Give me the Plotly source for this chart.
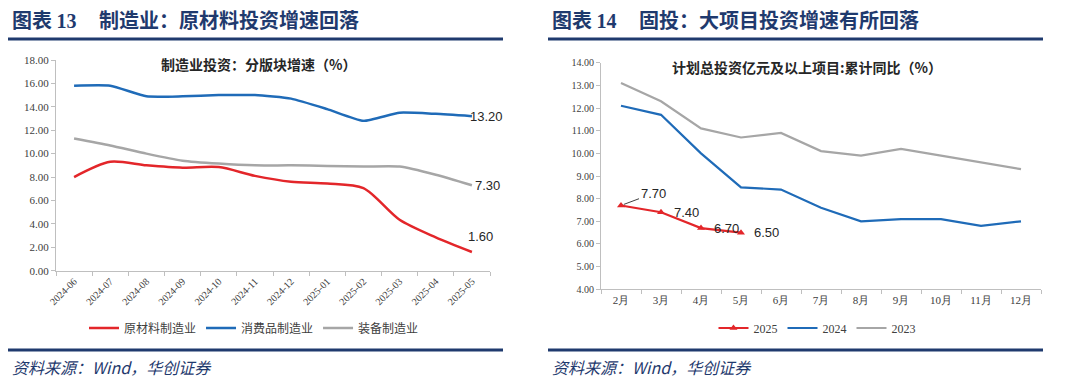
import plotly.graph_objects as go

# ---------------- data ----------------
months_left = ["2024-06", "2024-07", "2024-08", "2024-09", "2024-10", "2024-11",
               "2024-12", "2025-01", "2025-02", "2025-03", "2025-04", "2025-05"]
raw_material = [8.0, 9.3, 9.0, 8.8, 8.85, 8.1, 7.6, 7.45, 7.05, 4.35, 2.85, 1.6]
consumer_goods = [15.8, 15.8, 14.9, 14.9, 15.0, 15.0, 14.7, 13.8, 12.8, 13.5, 13.4, 13.2]
equipment = [11.3, 10.7, 10.0, 9.4, 9.15, 9.0, 9.0, 8.95, 8.9, 8.9, 8.2, 7.3]

months_right = ["2月", "3月", "4月", "5月", "6月", "7月", "8月", "9月", "10月", "11月", "12月"]
y2025 = [7.7, 7.4, 6.7, 6.5]
y2024 = [12.1, 11.7, 10.0, 8.5, 8.4, 7.6, 7.0, 7.1, 7.1, 6.8, 7.0]
y2023 = [13.1, 12.3, 11.1, 10.7, 10.9, 10.1, 9.9, 10.2, 9.9, 9.6, 9.3]

left_ticks = [0, 2, 4, 6, 8, 10, 12, 14, 16, 18]
right_ticks = [4, 5, 6, 7, 8, 9, 10, 11, 12, 13, 14]

# ---------------- style ----------------
W, H = 1080, 382
RED = "#e3262a"
BLUE = "#1f6bb8"
GRAY = "#a6a6a6"
NAVY = "#1f3a6e"
AXC = "#bfbfbf"
CJK = "Noto Sans CJK SC"
SERIF = "Liberation Serif"
SANS = "Liberation Sans"


def px_x(p):
    return p / W


def px_y(p):
    return 1 - p / H


fig = go.Figure()

# left chart
fig.add_trace(go.Scatter(x=months_left, y=raw_material, name="原材料制造业", mode="lines",
                         line=dict(color=RED, width=2.5, shape="spline", smoothing=0.8),
                         xaxis="x", yaxis="y", legend="legend"))
fig.add_trace(go.Scatter(x=months_left, y=consumer_goods, name="消费品制造业", mode="lines",
                         line=dict(color=BLUE, width=2.5, shape="spline", smoothing=0.5),
                         xaxis="x", yaxis="y", legend="legend"))
fig.add_trace(go.Scatter(x=months_left, y=equipment, name="装备制造业", mode="lines",
                         line=dict(color=GRAY, width=2.5, shape="spline", smoothing=0.6),
                         xaxis="x", yaxis="y", legend="legend"))

# right chart
fig.add_trace(go.Scatter(x=months_right[:len(y2025)], y=y2025, name="2025", mode="lines+markers",
                         line=dict(color=RED, width=2.2),
                         marker=dict(symbol="triangle-up", size=7, color=RED),
                         xaxis="x2", yaxis="y2", legend="legend2"))
fig.add_trace(go.Scatter(x=months_right, y=y2024, name="2024", mode="lines",
                         line=dict(color=BLUE, width=2.2),
                         xaxis="x2", yaxis="y2", legend="legend2"))
fig.add_trace(go.Scatter(x=months_right, y=y2023, name="2023", mode="lines",
                         line=dict(color=GRAY, width=2.2),
                         xaxis="x2", yaxis="y2", legend="legend2"))

axis_common = dict(showline=True, linecolor=AXC, linewidth=1, ticks="outside",
                   tickcolor=AXC, ticklen=4, showgrid=False, zeroline=False,
                   automargin=False)

annotations = []
# data labels left
lab_font = dict(family=SANS, size=13, color="#262626")
annotations.append(dict(x=months_left[-1], y=consumer_goods[-1], xref="x", yref="y",
                        text=f"{consumer_goods[-1]:.2f}", showarrow=False,
                        xanchor="left", yanchor="middle", xshift=-4, font=lab_font))
annotations.append(dict(x=months_left[-1], y=equipment[-1], xref="x", yref="y",
                        text=f"{equipment[-1]:.2f}", showarrow=False,
                        xanchor="left", yanchor="middle", xshift=1, font=lab_font))
annotations.append(dict(x=months_left[-1], y=raw_material[-1], xref="x", yref="y",
                        text=f"{raw_material[-1]:.2f}", showarrow=False,
                        xanchor="left", yanchor="middle", xshift=-6, yshift=15,
                        font=lab_font))
# data labels right
annotations.append(dict(x=months_right[0], y=y2025[0], xref="x2", yref="y2",
                        text=f"{y2025[0]:.2f}", showarrow=True, arrowhead=0,
                        arrowwidth=1, arrowcolor="#404040", ax=32, ay=-12,
                        standoff=3, font=lab_font))
for i in range(1, len(y2025)):
    annotations.append(dict(x=months_right[i], y=y2025[i], xref="x2", yref="y2",
                            text=f"{y2025[i]:.2f}", showarrow=False,
                            xanchor="left", yanchor="middle", xshift=11, font=lab_font))

# headers
head_font = dict(family=CJK, size=20, color=NAVY)
num_span = "<span style='font-family:Liberation Serif'>{}</span>"
hdrs = [(10, "<b>图表 " + num_span.format("13") + "</b>"),
        (97, "<b>制造业：原材料投资增速回落</b>"),
        (550, "<b>图表 " + num_span.format("14") + "</b>"),
        (637, "<b>固投：大项目投资增速有所回落</b>")]
for hx, ht in hdrs:
    annotations.append(dict(x=px_x(hx), y=px_y(20), xref="paper", yref="paper",
                            text=ht, showarrow=False, xanchor="left", yanchor="middle",
                            font=head_font))
# chart titles
t_font = dict(family=CJK, size=14, color="#262626")
annotations.append(dict(x=px_x(258), y=px_y(64), xref="paper", yref="paper",
                        text="<b>制造业投资：分版块增速（%）</b>", showarrow=False,
                        xanchor="center", yanchor="middle", font=t_font))
annotations.append(dict(x=px_x(807), y=px_y(67), xref="paper", yref="paper",
                        text="<b>计划总投资亿元及以上项目:累计同比（%）</b>", showarrow=False,
                        xanchor="center", yanchor="middle", font=t_font))
# sources
src_font = dict(family=CJK, size=16, color=NAVY)
for sx in (10, 550):
    annotations.append(dict(x=px_x(sx), y=px_y(367), xref="paper", yref="paper",
                            text="<i>资料来源：Wind，华创证券</i>", showarrow=False,
                            xanchor="left", yanchor="middle", font=src_font))

shapes = []
for (x0, x1) in ((8, 503), (548, 1043)):
    for yy in (39, 350):
        shapes.append(dict(type="line", xref="paper", yref="paper",
                           x0=px_x(x0), x1=px_x(x1), y0=px_y(yy), y1=px_y(yy),
                           line=dict(color=NAVY, width=3)))

fig.update_layout(
    width=W, height=H, autosize=False,
    margin=dict(l=0, r=0, t=0, b=0, pad=0),
    paper_bgcolor="white", plot_bgcolor="white",
    xaxis=dict(domain=[px_x(56), px_x(490)], type="category", anchor="y",
               range=[-0.5, len(months_left) - 0.5], tickson="boundaries",
               tickangle=-45, tickfont=dict(family=SERIF, size=10, color="#404040"),
               **axis_common),
    yaxis=dict(domain=[px_y(270.7), px_y(60)], range=[0, 18], anchor="x",
               tickvals=left_ticks, tickformat=".2f",
               tickfont=dict(family=SERIF, size=11, color="#404040"),
               **axis_common),
    xaxis2=dict(domain=[px_x(601), px_x(1041)], type="category", anchor="y2",
                range=[-0.5, len(months_right) - 0.5], tickson="boundaries",
                tickfont=dict(family=SERIF, size=11, color="#404040"),
                **axis_common),
    yaxis2=dict(domain=[px_y(289.3), px_y(62.7)], range=[4, 14], anchor="x2",
                tickvals=right_ticks, tickformat=".2f",
                tickfont=dict(family=SERIF, size=10, color="#404040"),
                **axis_common),
    legend=dict(x=px_x(254), y=px_y(328), xanchor="center", yanchor="middle",
                orientation="h", font=dict(family=CJK, size=12, color="#404040"),
                bgcolor="rgba(0,0,0,0)"),
    legend2=dict(x=px_x(817), y=px_y(328), xanchor="center", yanchor="middle",
                 orientation="h", font=dict(family=SERIF, size=12, color="#404040"),
                 bgcolor="rgba(0,0,0,0)"),
    annotations=annotations,
    shapes=shapes,
    showlegend=True,
)

fig.write_html("out.html", config={"displayModeBar": False},
               post_script="document.body.style.margin='0';document.body.style.overflow='hidden';")
